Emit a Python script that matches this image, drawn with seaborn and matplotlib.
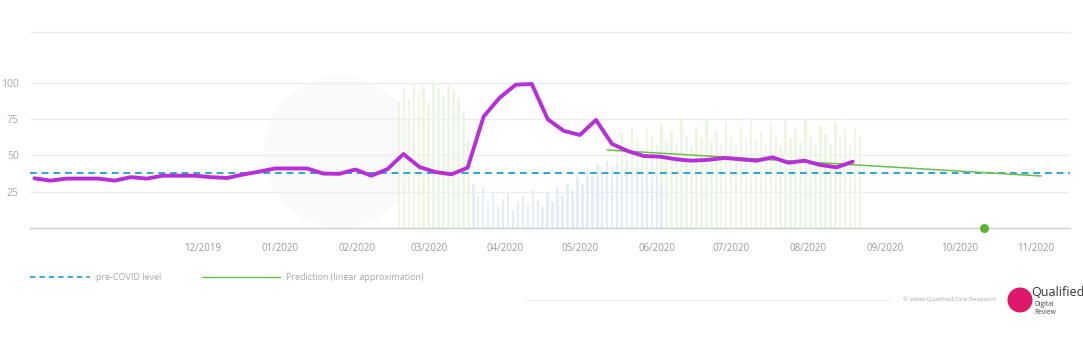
import numpy as np
import pandas as pd
import matplotlib
matplotlib.use("Agg")
import matplotlib.pyplot as plt
import matplotlib.dates as mdates
from matplotlib.lines import Line2D
from matplotlib.patches import Circle
import seaborn as sns

# ---------------- data ----------------
interest_start = "2019-09-24"
interest_end = "2020-08-19"
interest_values = [34.2, 32.6, 34.0, 34.0, 34.0, 32.6, 35.0, 34.0, 36.0, 36.0,
                   36.0, 35.0, 34.4, 36.8, 38.8, 41.0, 41.0, 41.0, 37.5, 37.3,
                   40.3, 36.0, 40.5, 51.0, 42.0, 38.5, 37.0, 41.5, 77.0, 90.0,
                   99.0, 99.5, 75.0, 67.0, 64.2, 74.6, 58.0, 53.0, 49.6, 49.2,
                   47.4, 46.4, 47.0, 48.3, 47.4, 46.4, 48.7, 45.0, 46.4, 43.4,
                   41.8, 45.7]
pre_covid_level = 38
prediction_dates = ["2020-05-12", "2020-11-03"]
prediction_values = [53.8, 35.8]
marker_date = "2020-10-11"
marker_value = 0

bar_start = "2020-02-18"
bar_end = "2020-08-22"
bars_green = ([88, 96, 90, 100, 94, 98, 86, 100, 97, 92, 99, 95, 90, 80, 62]
              + [0] * 29
              + [60, 66, 58, 70, 62, 55, 68, 64, 57, 72, 60, 66, 58, 74, 63,
                 56, 70, 62, 75, 60, 67, 58, 73, 64, 57, 70, 62, 76, 61, 66,
                 58, 72, 64, 56, 74, 62, 68, 59, 75, 63, 57, 71, 65, 58, 73,
                 62, 68, 57, 70, 64])
bars_blue = ([0] * 15
             + [30, 22, 28, 18, 25, 15, 20, 24, 12, 18, 22, 16, 26, 20, 14,
                24, 18, 28, 22, 30, 26, 35, 30, 40, 36, 44, 38, 46, 42]
             + [44, 40, 46, 38, 42, 36, 40, 34, 38, 30] + [0] * 40)

y_ticks = [25, 50, 75, 100]
x_tick_dates = ["2019-12-01", "2020-01-01", "2020-02-01", "2020-03-01", "2020-04-01",
                "2020-05-01", "2020-06-01", "2020-07-01", "2020-08-01", "2020-09-01",
                "2020-10-01", "2020-11-01"]
x_tick_labels = ["12/2019", "01/2020", "02/2020", "03/2020", "04/2020", "05/2020",
                 "06/2020", "07/2020", "08/2020", "09/2020", "10/2020", "11/2020"]
legend_labels = ["pre-COVID level", "Prediction (linear approximation)"]

# ---------------- frames ----------------
df_line = pd.DataFrame({
    "date": pd.date_range(interest_start, interest_end, periods=len(interest_values)),
    "value": interest_values,
})
bar_dates = pd.date_range(bar_start, bar_end, freq="2D")
df_pred = pd.DataFrame({"date": pd.to_datetime(prediction_dates), "value": prediction_values})

# ---------------- style ----------------
sns.set_style("white")
plt.rcParams["font.family"] = ["Open Sans", "DejaVu Sans"]

W, H = 1083, 341
fig = plt.figure(figsize=(W / 100, H / 100), dpi=100)
fig.patch.set_facecolor("white")

# watermark blob
fig.add_artist(Circle((3.40, (H - 152) / 100), 0.76, transform=fig.dpi_scale_trans,
                      color="#fafafa", zorder=0, lw=0))

ax = fig.add_axes([30 / W, (H - 227.7) / H, 1040 / W, (227.7 - 32.3) / H])
ax.set_facecolor("none")

ax.bar(bar_dates, bars_green, width=1.0, color="#edf6e2", zorder=1, lw=0)
ax.bar(bar_dates, bars_blue, width=1.0, color="#e4edf8", zorder=1, lw=0)

for yv in y_ticks:
    ax.axhline(yv, color="#ececec", lw=0.9, zorder=0.5)

ax.axhline(pre_covid_level, color="#2ba6d4", lw=1.4, ls=(0, (3.5, 2.5)), zorder=3)

sns.lineplot(data=df_pred, x="date", y="value", ax=ax, color="#6cc04a", lw=1.1, zorder=4)
sns.lineplot(data=df_line, x="date", y="value", ax=ax, color="#b82fd9", lw=2.8, zorder=5)
ax.scatter(pd.to_datetime([marker_date]), [marker_value], s=42, color="#5ab52c",
           zorder=6, clip_on=False, lw=0)

ax.set_xlim(pd.Timestamp("2019-09-22 05:00"), pd.Timestamp("2020-11-14 16:00"))
ax.set_ylim(0, 135.3)
ax.set_yticks(y_ticks)
ax.set_yticklabels([str(v) for v in y_ticks])
ax.set_xticks(pd.to_datetime(x_tick_dates))
ax.set_xticklabels(x_tick_labels)
ax.set_xlabel("")
ax.set_ylabel("")

for s in ["left", "right"]:
    ax.spines[s].set_visible(False)
ax.spines["top"].set_color("#ececec")
ax.spines["top"].set_linewidth(0.9)
ax.spines["bottom"].set_color("#cfcfcf")
ax.spines["bottom"].set_linewidth(1.0)

ax.tick_params(axis="y", length=0, pad=8, labelsize=7.5, labelcolor="#a8a8a8")
ax.tick_params(axis="x", length=8, width=0.9, color="#c8c8c8", direction="out",
               pad=3, labelsize=7, labelcolor="#9a9a9a")

# ---------------- legend below ----------------
def px(x, y):
    return x / W, (H - y) / H

x0, y0 = px(30, 277)
x1, _ = px(90, 277)
fig.add_artist(Line2D([x0, x1], [y0, y0], color="#2ba6d4", lw=1.3, ls=(0, (3, 2.2))))
fig.text(*px(96, 277), legend_labels[0], fontsize=6.5, color="#a8a8a8", va="center")
x0, y0 = px(202, 277)
x1, _ = px(280, 277)
fig.add_artist(Line2D([x0, x1], [y0, y0], color="#6cc04a", lw=1.0))
fig.text(*px(286, 277), legend_labels[1], fontsize=6.5, color="#a8a8a8", va="center")

# ---------------- footer ----------------
x0, y0 = px(525, 300)
x1, _ = px(890, 300)
fig.add_artist(Line2D([x0, x1], [y0, y0], color="#eeeeee", lw=0.8))
fig.text(*px(903, 299), "© www.Qualified.One Research", fontsize=4.6, color="#a8a8a8",
         va="center")
fig.add_artist(Circle((10.20, (H - 300) / 100), 0.125, transform=fig.dpi_scale_trans,
                      color="#e0186c", lw=0))
fig.text(*px(1031, 293), "Qualified", fontsize=9, color="#333333", va="center")
fig.text(*px(1034, 305), "Digital", fontsize=4.8, color="#444444", va="center")
fig.text(*px(1034, 312), "Review", fontsize=4.8, color="#444444", va="center")

fig.savefig("out.png", dpi=100, facecolor="white")
